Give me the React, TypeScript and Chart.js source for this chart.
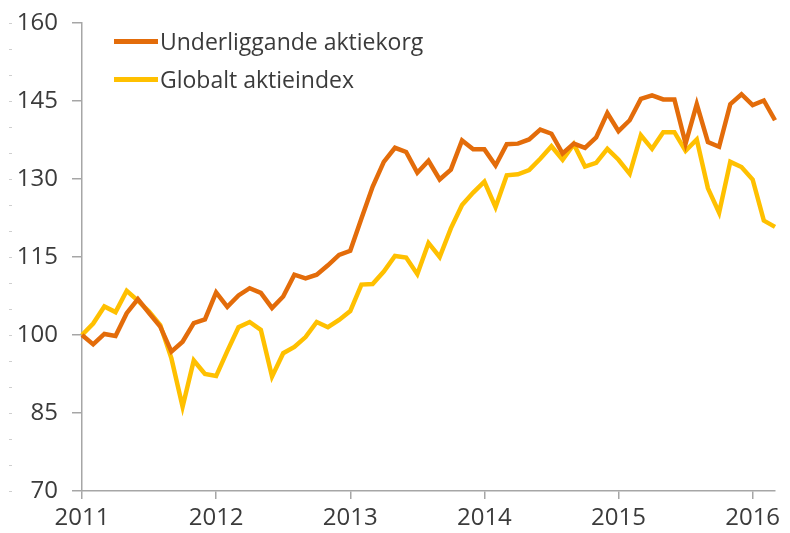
import React, { useEffect, useRef } from "react";
import { Chart, registerables } from "chart.js";

Chart.register(...registerables);

const years = ["2011", "2012", "2013", "2014", "2015", "2016"];
const monthNames = ["01", "02", "03", "04", "05", "06", "07", "08", "09", "10", "11", "12"];
const lastMonthCount = 3; // data runs through March 2016

const categories: string[] = [];
years.forEach((y, yi) => {
  const n = yi === years.length - 1 ? lastMonthCount : 12;
  for (let m = 0; m < n; m++) categories.push(`${y}-${monthNames[m]}`);
});

const underliggandeAktiekorg = [
  100, 98.2, 100.2, 99.8, 104.2, 106.9, 104.2, 101.6, 96.8, 98.7, 102.3, 103,
  108.2, 105.4, 107.6, 109, 108.1, 105.2, 107.4, 111.6, 110.9, 111.6, 113.4, 115.4,
  116.2, 122.4, 128.5, 133.3, 136, 135.2, 131.2, 133.5, 129.9, 131.8, 137.4, 135.7,
  135.7, 132.6, 136.7, 136.8, 137.6, 139.5, 138.7, 134.9, 136.8, 136, 138, 142.7,
  139.2, 141.3, 145.4, 146.1, 145.3, 145.3, 136.8, 144.4, 137.1, 136.2, 144.4, 146.3,
  144.2, 145.1, 141.3,
];

const globaltAktieindex = [
  100, 102.2, 105.5, 104.4, 108.5, 106.6, 104.5, 101.9, 95.5, 86.2, 95.1, 92.5,
  92.1, 96.9, 101.5, 102.5, 101, 92, 96.5, 97.7, 99.6, 102.5, 101.5, 102.9,
  104.6, 109.7, 109.8, 112.2, 115.2, 114.9, 111.7, 117.7, 115, 120.5, 125, 127.4,
  129.5, 124.6, 130.7, 130.9, 131.7, 133.9, 136.3, 133.7, 136.7, 132.4, 133.1, 135.8,
  133.7, 131, 138.4, 135.8, 139, 139, 135.4, 137.6, 128.2, 123.5, 133.3, 132.3,
  129.9, 122, 120.8,
];

const seriesLabels = ["Underliggande aktiekorg", "Globalt aktieindex"];
const seriesColors = ["#E36C0A", "#FFC000"];

const yMin = 70;
const yMax = 160;
const yStep = 15;
const yMinorStep = 5;

const FONT = "'Open Sans', 'Noto Sans', sans-serif";
const TEXT = "#3b3b3b";
const AXIS = "#a6a6a6";

const minorDots = {
  id: "minorDots",
  afterDraw(chart: any) {
    const y = chart.scales.y;
    const ctx = chart.ctx;
    ctx.save();
    ctx.fillStyle = "#cfcfcf";
    for (let v = yMin; v <= yMax; v += yMinorStep) {
      const py = Math.round(y.getPixelForValue(v));
      ctx.fillRect(9, py, 3, 1);
    }
    ctx.restore();
  },
};

export default function App() {
  const ref = useRef<HTMLCanvasElement | null>(null);

  useEffect(() => {
    document.body.style.margin = "0";
    if (!ref.current) return;
    const chart = new Chart(ref.current, {
      type: "line",
      data: {
        labels: categories,
        datasets: [
          {
            label: seriesLabels[0],
            data: underliggandeAktiekorg,
            borderColor: seriesColors[0],
            backgroundColor: seriesColors[0],
            borderWidth: 4.5,
            pointRadius: 0,
            tension: 0,
          },
          {
            label: seriesLabels[1],
            data: globaltAktieindex,
            borderColor: seriesColors[1],
            backgroundColor: seriesColors[1],
            borderWidth: 4.5,
            pointRadius: 0,
            tension: 0,
          },
        ],
      },
      options: {
        animation: false,
        responsive: false,
        maintainAspectRatio: false,
        layout: { padding: { top: 23, right: 15, left: 0, bottom: 0 } },
        plugins: {
          legend: { display: false },
          tooltip: { enabled: false },
        },
        scales: {
          x: {
            type: "category",
            offset: false,
            grid: {
              drawOnChartArea: false,
              tickLength: 8,
              lineWidth: 1.5,
              color: (ctx: any) => (ctx.index % 12 === 0 ? AXIS : "rgba(0,0,0,0)"),
            },
            border: { color: AXIS, width: 1.5 },
            ticks: {
              autoSkip: false,
              maxRotation: 0,
              padding: 5,
              color: TEXT,
              font: { family: FONT, size: 24 },
              callback: (_v: any, i: number) => (i % 12 === 0 ? categories[i].slice(0, 4) : ""),
            },
            afterFit: (s: any) => {
              s.height = 42;
              s.paddingLeft = 0;
              s.paddingRight = 0;
            },
          },
          y: {
            min: yMin,
            max: yMax,
            grid: {
              drawOnChartArea: false,
              tickLength: 10,
              lineWidth: 1.5,
              color: AXIS,
            },
            border: { color: AXIS, width: 1.5 },
            ticks: {
              stepSize: yStep,
              padding: 14,
              color: TEXT,
              font: { family: FONT, size: 24 },
            },
            afterFit: (s: any) => {
              s.width = 82;
              s.paddingTop = 0;
              s.paddingBottom = 0;
            },
          },
        },
      },
      plugins: [minorDots],
    });
    return () => chart.destroy();
  }, []);

  return (
    <div style={{ position: "relative", width: 790, height: 533, background: "#fff" }}>
      <canvas ref={ref} width={790} height={533} style={{ display: "block" }} />
      <div style={{ position: "absolute", left: 114, top: 22, fontFamily: FONT, fontSize: 23, color: TEXT }}>
        {seriesLabels.map((l, i) => (
          <div key={l} style={{ display: "flex", alignItems: "center", height: 38, whiteSpace: "nowrap" }}>
            <span style={{ display: "inline-block", width: 44, height: 5, background: seriesColors[i], marginRight: 2 }} />
            <span>{l}</span>
          </div>
        ))}
      </div>
    </div>
  );
}
